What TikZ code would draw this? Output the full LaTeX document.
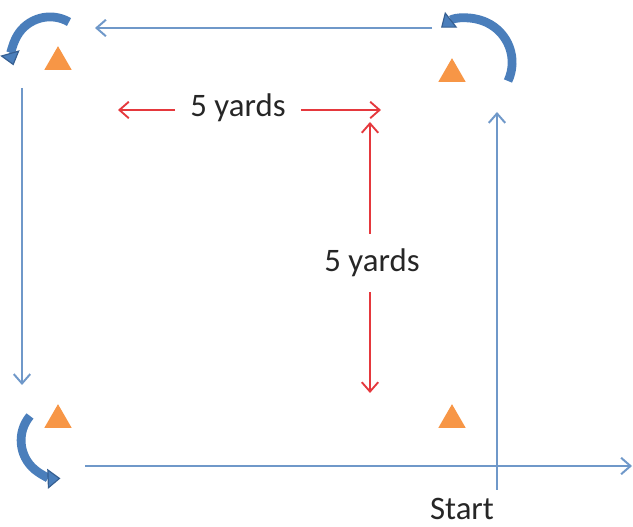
\documentclass[tikz,border=0pt]{standalone}
\usepackage{fontspec}
\setmainfont{Carlito}
\usetikzlibrary{arrows.meta,shapes.geometric}
\definecolor{lineblue}{HTML}{6F98C9}
\definecolor{arcblue}{HTML}{4A7EBB}
\definecolor{arcedge}{HTML}{365F91}
\definecolor{markred}{HTML}{E5383D}
\definecolor{coneorange}{HTML}{F79646}

\begin{document}
\begin{tikzpicture}[x=0.03cm, y=0.03cm, >={Straight Barb[length=8pt,width=14pt]}]
  \tikzstyle{run}=[draw=lineblue, line width=1.7pt, ->]
  \tikzstyle{measure}=[draw=markred, line width=1.6pt, ->]
  \tikzstyle{cone}=[regular polygon, regular polygon sides=3, fill=coneorange,
    inner sep=0pt, minimum size=0.95cm]
  \tikzstyle{turn}=[draw=arcblue, line width=7.5pt,
    -{Triangle[length=11pt,width=17pt,line width=1pt,color=arcedge,fill=arcblue]}]
  \tikzstyle{lbl}=[font=\fontsize{28}{32}\selectfont, text=black!85, inner sep=0.45cm]

  \useasboundingbox (0,0) rectangle (633,527);

  % Cones
  \node[cone] (conetl) at (58,465) {};
  \node[cone] (conetr) at (452,453) {};
  \node[cone] (conebl) at (58,107) {};
  \node[cone] (conebr) at (452,107) {};

  % Running path
  \coordinate (startlow) at (497,37);
  \coordinate (starttop) at (497,415);
  \coordinate (topright) at (432,499);
  \coordinate (topleft)  at (95,499);
  \coordinate (lefttop)  at (22,439);
  \coordinate (leftlow)  at (22,142);
  \coordinate (lowleft)  at (85,61);
  \coordinate (lowright) at (632,61);

  \draw[run] (startlow) -- (starttop);
  \draw[run] (topright) -- (topleft);
  \draw[run] (lefttop) -- (leftlow);
  \draw[run] (lowleft) -- (lowright);

  % Turns round the cones
  \coordinate (turntr) at (508,446);
  \coordinate (turntl) at (69,505);
  \coordinate (turnbl) at (30,111);
  \draw[turn] (turntr) arc[start angle=-25, end angle=128, radius=44];
  \draw[turn] (turntl) arc[start angle=60, end angle=196, radius=38];
  \draw[turn] (turnbl) arc[start angle=140, end angle=272, radius=38];

  % Distances
  \node[lbl] (yardsh) at (238,419) {5 yards};
  \node[lbl] (yardsv) at (372,264) {5 yards};
  \coordinate (hleft)  at (118,417);
  \coordinate (hright) at (381,417);
  \coordinate (vtop)   at (370,405);
  \coordinate (vlow)   at (370,134);
  \draw[measure] (yardsh.west |- hleft) -- (hleft);
  \draw[measure] (yardsh.east |- hright) -- (hright);
  \draw[measure] (yardsv.north -| vtop) -- (vtop);
  \draw[measure] (yardsv.south -| vlow) -- (vlow);

  \node[lbl, inner sep=0pt] (start) at (462,18) {Start};
\end{tikzpicture}
\end{document}
